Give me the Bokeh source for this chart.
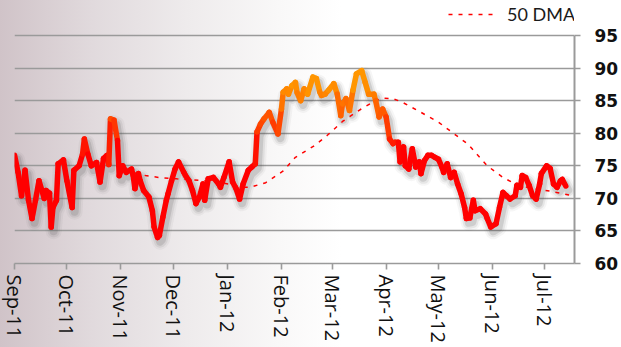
import numpy as np
import pandas as pd
from bokeh.plotting import figure
from bokeh.models import (Range1d, MonthsTicker, FixedTicker, DatetimeTickFormatter,
                          Legend, LegendItem)
from bokeh.embed import file_html
from bokeh.resources import INLINE

# Sentiment index readings
index_dates = [
    "2011-09-01", "2011-09-03", "2011-09-05", "2011-09-07", "2011-09-09", "2011-09-11",
    "2011-09-13", "2011-09-15", "2011-09-18", "2011-09-19", "2011-09-21", "2011-09-22",
    "2011-09-23", "2011-09-25", "2011-09-26", "2011-09-29", "2011-10-01", "2011-10-04",
    "2011-10-05", "2011-10-08", "2011-10-10", "2011-10-11", "2011-10-13", "2011-10-15",
    "2011-10-18", "2011-10-20", "2011-10-22", "2011-10-24", "2011-10-25", "2011-10-26",
    "2011-10-28", "2011-10-30", "2011-10-31", "2011-11-02", "2011-11-04", "2011-11-07",
    "2011-11-08", "2011-11-09", "2011-11-11", "2011-11-12", "2011-11-14", "2011-11-17",
    "2011-11-19", "2011-11-20", "2011-11-22", "2011-11-23", "2011-11-25", "2011-11-27",
    "2011-11-28", "2011-11-30", "2011-12-02", "2011-12-04", "2011-12-07", "2011-12-08",
    "2011-12-10", "2011-12-12", "2011-12-14", "2011-12-16", "2011-12-18", "2011-12-19",
    "2011-12-21", "2011-12-24", "2011-12-27", "2011-12-28", "2011-12-30", "2012-01-02",
    "2012-01-04", "2012-01-06", "2012-01-08", "2012-01-10", "2012-01-13", "2012-01-15",
    "2012-01-17", "2012-01-18", "2012-01-20", "2012-01-22", "2012-01-25", "2012-01-27",
    "2012-01-30", "2012-02-01", "2012-02-02", "2012-02-04", "2012-02-05", "2012-02-07",
    "2012-02-09", "2012-02-10", "2012-02-12", "2012-02-14", "2012-02-16", "2012-02-19",
    "2012-02-21", "2012-02-23", "2012-02-24", "2012-02-26", "2012-02-28", "2012-03-02",
    "2012-03-04", "2012-03-06", "2012-03-07", "2012-03-09", "2012-03-11", "2012-03-13",
    "2012-03-15", "2012-03-18", "2012-03-20", "2012-03-22", "2012-03-25", "2012-03-26",
    "2012-03-28", "2012-03-30", "2012-04-01", "2012-04-03", "2012-04-05", "2012-04-06",
    "2012-04-08", "2012-04-09", "2012-04-11", "2012-04-12", "2012-04-14", "2012-04-16",
    "2012-04-18", "2012-04-20", "2012-04-21", "2012-04-23", "2012-04-25", "2012-04-27",
    "2012-04-29", "2012-05-01", "2012-05-03", "2012-05-04", "2012-05-06", "2012-05-08",
    "2012-05-10", "2012-05-12", "2012-05-14", "2012-05-16", "2012-05-17", "2012-05-19",
    "2012-05-21", "2012-05-22", "2012-05-25", "2012-05-28", "2012-05-29", "2012-05-31",
    "2012-06-03", "2012-06-05", "2012-06-07", "2012-06-09", "2012-06-11", "2012-06-14",
    "2012-06-15", "2012-06-17", "2012-06-18", "2012-06-20", "2012-06-22", "2012-06-24",
    "2012-06-26", "2012-06-28", "2012-06-29", "2012-07-02", "2012-07-04", "2012-07-06",
    "2012-07-08", "2012-07-10", "2012-07-11", "2012-07-13",
]
index_values = [
    76.6, 74.0, 70.4, 74.3, 69.7, 66.9,
    69.7, 72.7, 70.0, 71.2, 70.8, 65.6,
    68.6, 69.7, 75.3, 75.9, 72.7, 68.6,
    74.3, 75.0, 76.8, 79.1, 76.8, 75.0,
    75.5, 72.5, 76.1, 76.6, 75.2, 82.2,
    82.0, 78.9, 73.5, 75.0, 74.0, 74.5,
    73.5, 71.5, 73.8, 72.7, 71.2, 70.2,
    68.1, 65.6, 64.0, 64.3, 67.1, 69.7,
    70.7, 72.7, 74.5, 75.6, 74.0, 73.5,
    72.7, 71.2, 69.2, 70.2, 72.2, 69.7,
    73.0, 73.2, 72.2, 71.7, 73.2, 75.6,
    72.5, 71.5, 69.9, 72.2, 74.3, 74.8,
    75.3, 80.2, 81.4, 82.2, 83.2, 81.7,
    79.9, 83.7, 86.3, 86.8, 86.0, 87.3,
    87.8, 86.2, 85.0, 86.8, 86.0, 88.6,
    88.4, 86.3, 85.8, 86.0, 86.6, 87.6,
    86.0, 82.7, 84.5, 85.3, 83.5, 86.6,
    89.1, 89.6, 87.8, 86.0, 86.0, 85.0,
    82.5, 83.7, 82.5, 79.1, 78.4, 78.6,
    78.6, 75.6, 77.9, 75.0, 74.5, 77.6,
    74.8, 75.6, 73.8, 75.8, 76.6, 76.6,
    76.3, 76.0, 74.8, 74.0, 75.3, 73.2,
    74.0, 72.2, 70.7, 68.6, 66.9, 67.0,
    69.7, 68.1, 68.4, 67.6, 66.9, 65.6,
    66.1, 68.6, 70.9, 70.4, 69.9, 70.4,
    72.0, 71.7, 73.5, 73.2, 72.0, 70.4,
    69.9, 72.2, 73.8, 75.0, 74.6, 72.2,
    71.7, 72.7, 72.9, 71.9,
]

# 50-day moving average
dma_dates = [
    "2011-11-09", "2011-11-15", "2011-11-23", "2011-12-03", "2011-12-19", "2012-01-02",
    "2012-01-09", "2012-01-14", "2012-01-23", "2012-02-02", "2012-02-09", "2012-02-20",
    "2012-02-27", "2012-03-07", "2012-03-17", "2012-03-26", "2012-03-30", "2012-04-05",
    "2012-04-10", "2012-04-21", "2012-05-01", "2012-05-10", "2012-05-18", "2012-05-23",
    "2012-05-29", "2012-06-07", "2012-06-15", "2012-06-24", "2012-07-04", "2012-07-17",
]
dma_values = [
    73.9, 73.5, 73.2, 73.0, 72.7, 72.2,
    71.7, 71.7, 72.4, 74.2, 76.3, 78.1,
    79.6, 81.8, 83.6, 85.0, 85.4, 85.3,
    84.8, 83.2, 81.7, 79.9, 78.3, 76.8,
    75.0, 73.2, 72.1, 71.5, 71.1, 70.4,
]

y_ticks = [60, 65, 70, 75, 80, 85, 90, 95]
x_start, x_end = "2011-09-01", "2012-07-18"
dma_label = "50 DMA"

t = pd.to_datetime(index_dates)
v = np.array(index_values, dtype=float)
dma_t = pd.to_datetime(dma_dates)

# the plotting area reaches the top edge so the legend can sit above the 95 line;
# the axis itself stops at 95
y_top = 95 + 35 * (95 - 60) / 228.0

p = figure(width=621, height=347, x_axis_type="datetime", y_axis_location="right",
           x_range=Range1d(pd.Timestamp(x_start) - pd.Timedelta(hours=1), pd.Timestamp(x_end)),
           y_range=Range1d(60, y_top),
           output_backend="svg", toolbar_location=None,
           min_border_left=14, min_border_right=44, min_border_top=0, min_border_bottom=84)

p.background_fill_alpha = 0
p.border_fill_alpha = 0
p.outline_line_color = None
p.styles = {"background": "linear-gradient(90deg, #d0c3c8 0%, #e1dadd 15%, #eeebec 30%, "
                          "#f9f8f8 45%, #ffffff 55%)"}

# grid
p.xgrid.grid_line_color = None
p.ygrid.ticker = FixedTicker(ticks=y_ticks)
p.ygrid.grid_line_color = "#9a9a9a"
p.ygrid.grid_line_width = 1.6

# bottom date axis
p.xaxis.ticker = MonthsTicker(months=list(range(12)))
p.xaxis.formatter = DatetimeTickFormatter(months="%b-%y", days="%b-%y", years="%b-%y")
p.xaxis.major_label_orientation = "vertical"
p.xaxis.major_label_text_font = "Open Sans"
p.xaxis.major_label_text_font_size = "20px"
p.xaxis.major_label_text_color = "#111111"
p.xaxis.major_label_standoff = 5
p.xaxis.axis_line_color = "#9a9a9a"
p.xaxis.axis_line_width = 1.6
p.xaxis.major_tick_line_color = "#9a9a9a"
p.xaxis.major_tick_line_width = 1.6
p.xaxis.major_tick_out = 6
p.xaxis.major_tick_in = 0
p.xaxis.minor_tick_line_color = None

# right value axis
p.yaxis.ticker = FixedTicker(ticks=y_ticks)
p.yaxis.bounds = (60, 95)
p.yaxis.major_label_text_font = "DejaVu Sans"
p.yaxis.major_label_text_font_style = "bold"
p.yaxis.major_label_text_font_size = "17px"
p.yaxis.major_label_text_color = "#111111"
p.yaxis.major_label_standoff = 14
p.yaxis.axis_line_color = "#9a9a9a"
p.yaxis.axis_line_width = 2
p.yaxis.major_tick_line_color = "#9a9a9a"
p.yaxis.major_tick_line_width = 1.6
p.yaxis.major_tick_out = 6
p.yaxis.major_tick_in = 0
p.yaxis.minor_tick_line_color = None

# soft drop shadow under the index line
shadow_dx = pd.Timedelta(hours=34)
shadow_dy = -0.65
for w, a in [(16, 0.05), (12, 0.09), (8, 0.15)]:
    p.line(t + shadow_dx, v + shadow_dy, line_color="#4a4a4a", line_alpha=a,
           line_width=w, line_join="round", line_cap="round")

# moving average
dma_r = p.line(dma_t, dma_values, line_color="#ff0000", line_width=1.5, line_dash="4 6")

# index line, shaded from red to orange as the level rises
mid = (v[:-1] + v[1:]) / 2
frac = np.clip((mid - 76.5) / (87.5 - 76.5), 0, 1)
seg_colors = ["#%02x%02x%02x" % (255, int(round(150 * f)), 0) for f in frac]
p.segment(x0=t[:-1], y0=v[:-1], x1=t[1:], y1=v[1:], line_color=seg_colors,
          line_width=5.5, line_cap="round")

legend = Legend(items=[LegendItem(label=dma_label, renderers=[dma_r])],
                location=(434, 238), orientation="horizontal",
                glyph_width=50, glyph_height=20, label_height=20, label_standoff=9,
                padding=0, margin=0, spacing=0,
                border_line_alpha=0, background_fill_alpha=0,
                label_text_font="Lato", label_text_font_size="18px",
                label_text_color="#1a1a1a")
p.add_layout(legend, "center")

open("out.html", "w").write(file_html(p, INLINE))
